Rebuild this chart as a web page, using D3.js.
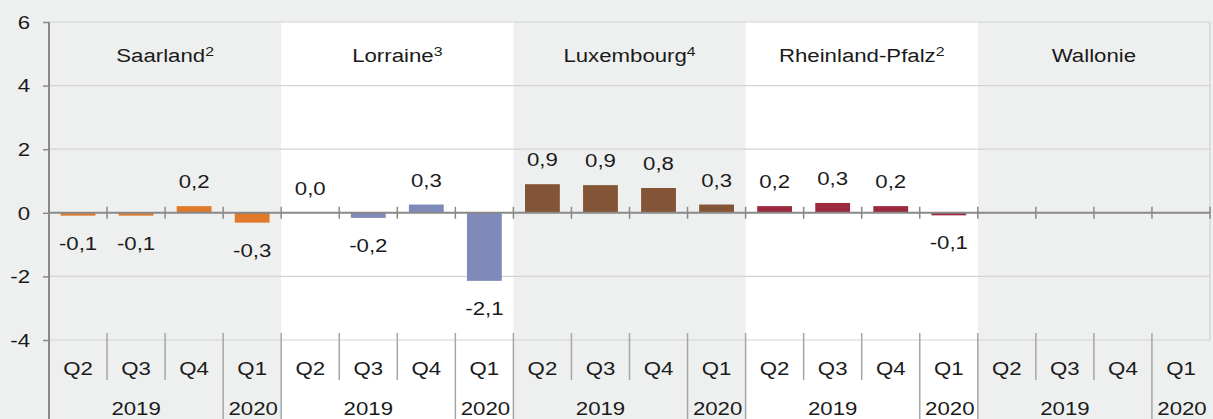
<!DOCTYPE html>
<html>
<head>
<meta charset="utf-8">
<script src="https://cdn.jsdelivr.net/npm/d3@7"></script>
<style>
  html, body { margin: 0; padding: 0; background: #eef0ef; }
  svg { display: block; font-family: "Liberation Sans", Arial, sans-serif; }
</style>
</head>
<body>
<script>
// regions, quarters and values (change to previous quarter, %)
var regions = ["Saarland", "Lorraine", "Luxembourg", "Rheinland-Pfalz", "Wallonie"]
var regionSup = ["2", "3", "4", "2", ""]
var quarters = ["Q2", "Q3", "Q4", "Q1"]
var years = ["2019", "2019", "2019", "2020"]
var regionColors = ["#e07a2a", "#7f8aba", "#845437", "#9c2a3e", "#999999"]

var saarland = [-0.09, -0.09, 0.21, -0.31]
var lorraine = [0.0, -0.16, 0.26, -2.14]
var luxembourg = [0.9, 0.87, 0.78, 0.26]
var rheinlandPfalz = [0.21, 0.31, 0.21, -0.08]
var wallonie = [null, null, null, null]

var yTicks = [-4, -2, 0, 2, 4, 6]

var allSeries = [saarland, lorraine, luxembourg, rheinlandPfalz, wallonie]

// flatten into one row per bar
var data = []
allSeries.forEach(function(series, r) {
  series.forEach(function(v, q) {
    data.push({ region: regions[r], ri: r, quarter: quarters[q], year: years[q], qi: q, key: regions[r] + "|" + quarters[q], value: v })
  })
})

var W = 1213, H = 419
var margin = { top: 22, left: 49, right: 3, bottom: 79 }
var plotRight = W - margin.right
var plotBottom = H - margin.bottom
var FS = 19      // font size
var STRETCH = 1.17 // the original type is set a bit wide

var svg = d3.select("body").append("svg")
  .attr("width", W)
  .attr("height", H)

// text placed at (x,y) and stretched horizontally around its anchor
function wideText(sel, fx, fy) {
  return sel
    .attr("transform", function(d, i) { return "translate(" + fx(d, i) + "," + fy(d, i) + ") scale(" + STRETCH + ",1)" })
    .attr("font-size", FS + "px")
    .attr("fill", "#1a1a1a")
}

var x = d3.scaleBand()
  .domain(data.map(function(d) { return d.key }))
  .range([margin.left, plotRight])
  .padding(0)

var xRegion = d3.scaleBand()
  .domain(regions)
  .range([margin.left, plotRight])
  .padding(0)

var y = d3.scaleLinear().domain([-4, 6]).range([plotBottom, margin.top])

var step = x.step()
var barW = step * 0.6

// white panels for every second region
svg.append("g").selectAll("rect")
  .data(regions.filter(function(d, i) { return i % 2 == 1 }))
  .enter().append("rect")
  .attr("x", function(d) { return xRegion(d) })
  .attr("y", margin.top)
  .attr("width", xRegion.bandwidth())
  .attr("height", H - margin.top)
  .attr("fill", "#ffffff")

// gridlines
svg.append("g").selectAll("line")
  .data(yTicks.filter(function(d) { return d != 0 }))
  .enter().append("line")
  .attr("x1", margin.left).attr("x2", plotRight)
  .attr("y1", function(d) { return y(d) }).attr("y2", function(d) { return y(d) })
  .attr("stroke", "#d2d3d2").attr("stroke-width", 1.2)

// right border
svg.append("line")
  .attr("x1", plotRight).attr("x2", plotRight)
  .attr("y1", margin.top).attr("y2", plotBottom)
  .attr("stroke", "#d2d3d2").attr("stroke-width", 1.2)

// region titles
var titles = svg.append("g").selectAll("text")
  .data(regions)
  .enter().append("text")
  .attr("text-anchor", "middle")
wideText(titles, function(d) { return xRegion(d) + xRegion.bandwidth() / 2 }, function() { return 62 })
titles.append("tspan").text(function(d) { return d })
titles.append("tspan")
  .attr("font-size", "13.5px")
  .attr("dy", -6)
  .text(function(d, i) { return regionSup[i] })

// bars
svg.append("g").selectAll("rect")
  .data(data.filter(function(d) { return d.value != null }))
  .enter().append("rect")
  .attr("x", function(d) { return x(d.key) + (step - barW) / 2 })
  .attr("y", function(d) { return y(Math.max(0, d.value)) })
  .attr("width", barW)
  .attr("height", function(d) { return Math.abs(y(d.value) - y(0)) })
  .attr("fill", function(d) { return regionColors[d.ri] })

// value labels
var vals = svg.append("g").selectAll("text")
  .data(data.filter(function(d) { return d.value != null }))
  .enter().append("text")
  .attr("text-anchor", "middle")
  .text(function(d) { return d.value.toFixed(1).replace(".", ",") })
wideText(vals,
  function(d) { return x(d.key) + step / 2 },
  function(d) { return d.value < 0 ? y(d.value) + 34 : y(d.value) - 18 })

// zero line with tick marks
svg.append("line")
  .attr("x1", margin.left).attr("x2", plotRight)
  .attr("y1", y(0)).attr("y2", y(0))
  .attr("stroke", "#898989").attr("stroke-width", 2)

var bounds = x.domain().map(function(k) { return x(k) }).concat([plotRight])
svg.append("g").selectAll("line")
  .data(bounds.slice(1))
  .enter().append("line")
  .attr("x1", function(d) { return d }).attr("x2", function(d) { return d })
  .attr("y1", y(0) - 6).attr("y2", y(0) + 6)
  .attr("stroke", "#898989").attr("stroke-width", 1.5)

// y axis
var yAxis = d3.axisLeft(y).tickValues(yTicks).tickSize(6).tickFormat("")
var yG = svg.append("g")
  .attr("transform", "translate(" + margin.left + ",0)")
  .call(yAxis)
yG.select(".domain").remove()
yG.selectAll(".tick line").attr("stroke", "#898989").attr("stroke-width", 1.5)

var yLabels = svg.append("g").selectAll("text")
  .data(yTicks)
  .enter().append("text")
  .attr("text-anchor", "end")
  .attr("dy", "0.36em")
  .text(function(d) { return String(d) })
wideText(yLabels, function() { return 30 }, function(d) { return y(d) })

svg.append("line")
  .attr("x1", margin.left).attr("x2", margin.left)
  .attr("y1", margin.top).attr("y2", H)
  .attr("stroke", "#898989").attr("stroke-width", 2)

// category axis: quarter separators, year separators and labels
var sepG = svg.append("g")
data.forEach(function(d) {
  if (d.qi == 0 && d.ri == 0) return
  var long = d.qi == 0 || d.qi == 3
  sepG.append("line")
    .attr("x1", x(d.key)).attr("x2", x(d.key))
    .attr("y1", plotBottom - 7)
    .attr("y2", long ? H : plotBottom + 40)
    .attr("stroke", "#a6a6a6").attr("stroke-width", 1.5)
})

var qLabels = svg.append("g").selectAll("text")
  .data(data)
  .enter().append("text")
  .attr("text-anchor", "middle")
  .text(function(d) { return d.quarter })
wideText(qLabels, function(d) { return x(d.key) + step / 2 }, function() { return plotBottom + 35 })

// year labels: 2019 spans Q2-Q4, 2020 is Q1
var yearLabels = []
regions.forEach(function(r) {
  yearLabels.push({ text: "2019", x: x(r + "|Q2") + step * 1.5 })
  yearLabels.push({ text: "2020", x: x(r + "|Q1") + step / 2 + 1 })
})
var yl = svg.append("g").selectAll("text")
  .data(yearLabels)
  .enter().append("text")
  .attr("text-anchor", "middle")
  .text(function(d) { return d.text })
wideText(yl, function(d) { return d.x }, function() { return H - 4 })
</script>
</body>
</html>
